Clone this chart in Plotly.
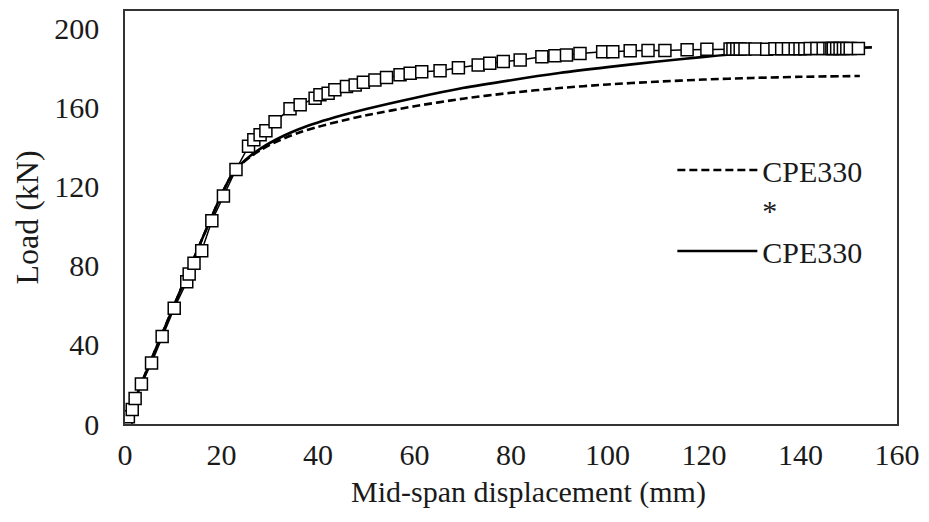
import plotly.graph_objects as go

# Experimental test (markers)
exp_x = [0, 0.2, 0.7, 1.5, 2.1, 3.4, 5.5, 7.7, 10.2, 12.8, 13.3, 14.3, 15.9, 18.0, 20.4, 23.0,
         25.6, 26.7, 28.0, 29.2, 31.1, 34.2, 36.3, 39.4, 40.4, 42.1, 43.5, 45.9, 47.7, 49.4,
         51.8, 54.2, 57.0, 59.1, 61.5, 65.3, 69.1, 73.2, 75.6, 78.4, 81.9, 86.4, 89.1, 91.5,
         94.3, 99.0, 101.1, 104.7, 108.4, 111.9, 116.5, 120.6, 125.4, 126.0, 126.8, 127.5,
         128.5, 130.6, 133.0, 134.7, 136.1, 137.5, 138.9, 139.9, 140.9, 142.0, 143.4, 144.7,
         146.1, 146.5, 146.8, 147.5, 148.2, 148.9, 149.6, 150.3, 152.0]
exp_y = [0, 0.8, 3.7, 7.4, 12.9, 20.2, 30.9, 44.3, 58.6, 72.0, 75.9, 81.3, 87.7, 102.8, 115.4, 128.8,
         140.5, 143.9, 146.4, 148.4, 153.0, 159.5, 161.5, 164.9, 166.6, 167.4, 169.1, 170.8, 171.6, 172.9,
         174.1, 175.3, 176.7, 177.5, 178.3, 178.8, 180.3, 181.7, 182.5, 183.4, 184.2, 185.9, 186.4, 186.7,
         187.5, 188.4, 188.4, 188.9, 189.0, 189.0, 189.4, 189.6, 189.8, 189.8, 189.8, 189.8,
         189.8, 189.8, 189.6, 189.9, 189.9, 189.9, 189.9, 189.9, 189.9, 190.0, 190.0, 190.0,
         190.0, 190.0, 190.0, 190.0, 190.0, 190.0, 190.0, 190.0, 190.0]

# Numerical CPE330 (solid)
num_x = [0, 5, 10, 15, 20, 22, 24, 26, 28, 30, 33, 36, 40, 45, 50, 60, 70, 80, 90, 100, 110,
         120, 130, 140, 150, 154.8]
num_y = [0, 30, 59, 88, 116, 125.5, 131.5, 135.8, 139.2, 142.2, 146.0, 149.2, 152.6, 156.2,
         159.4, 165.0, 170.0, 174.0, 177.6, 180.6, 183.3, 185.8, 187.9, 189.4, 190.3, 190.6]

# Numerical CPE330* (dashed)
star_x = [0, 5, 10, 15, 20, 22, 24, 26, 28, 30, 33, 36, 40, 45, 50, 60, 70, 80, 90, 100, 110,
          120, 130, 140, 152.3]
star_y = [0, 30, 59, 88, 116, 125.5, 131.2, 135.3, 138.5, 141.3, 144.6, 147.4, 150.4, 153.5,
          156.2, 160.8, 164.6, 167.6, 170.0, 171.8, 173.2, 174.3, 175.1, 175.7, 176.1]

x_ticks = [0, 20, 40, 60, 80, 100, 120, 140, 160]
y_ticks = [0, 40, 80, 120, 160, 200]

FONT = "Liberation Serif"
INK = "#1a1a1a"

fig = go.Figure()
fig.add_trace(go.Scatter(x=star_x, y=star_y, mode="lines", name="CPE330<br>*",
                         line=dict(color="black", width=2.6, dash="8px,4px", shape="spline",
                                   smoothing=0.8)))
fig.add_trace(go.Scatter(x=num_x, y=num_y, mode="lines", name="CPE330",
                         line=dict(color="black", width=2.6, shape="spline", smoothing=0.8)))
fig.add_trace(go.Scatter(x=exp_x, y=exp_y, mode="lines+markers", name="Test", showlegend=False,
                         line=dict(color="black", width=1.5),
                         marker=dict(symbol="square", size=12, color="white",
                                     line=dict(color="black", width=1.5))))

fig.update_layout(
    width=929, height=522,
    margin=dict(l=125, r=31, t=9, b=98),
    paper_bgcolor="white", plot_bgcolor="white",
    font=dict(family=FONT, size=30, color=INK),
    showlegend=True,
    legend=dict(x=0.709, y=0.678, xanchor="left", yanchor="top", valign="top",
                bgcolor="rgba(0,0,0,0)", font=dict(family=FONT, size=30, color=INK),
                itemwidth=80, tracegroupgap=0),
    annotations=[dict(text="Mid-span displacement (mm)", xref="paper", yref="paper",
                      x=0.5226, y=-0.165, xanchor="center", yanchor="middle",
                      showarrow=False, font=dict(family=FONT, size=30, color=INK))],
)
fig.update_xaxes(range=[0, 160], tickvals=x_ticks, ticktext=[str(v) for v in x_ticks],
                 showgrid=False, zeroline=False, showline=True, linecolor="#333", linewidth=1.5,
                 mirror=True, ticks="", ticklabelstandoff=3)
fig.update_yaxes(range=[0, 209], tickvals=y_ticks, ticktext=[str(v) for v in y_ticks],
                 showgrid=False, zeroline=False, showline=True, linecolor="#333", linewidth=1.5,
                 mirror=True, ticks="", ticklabelstandoff=18,
                 title=dict(text="Load (kN)", font=dict(size=32), standoff=6))

fig.write_html("out.html")
